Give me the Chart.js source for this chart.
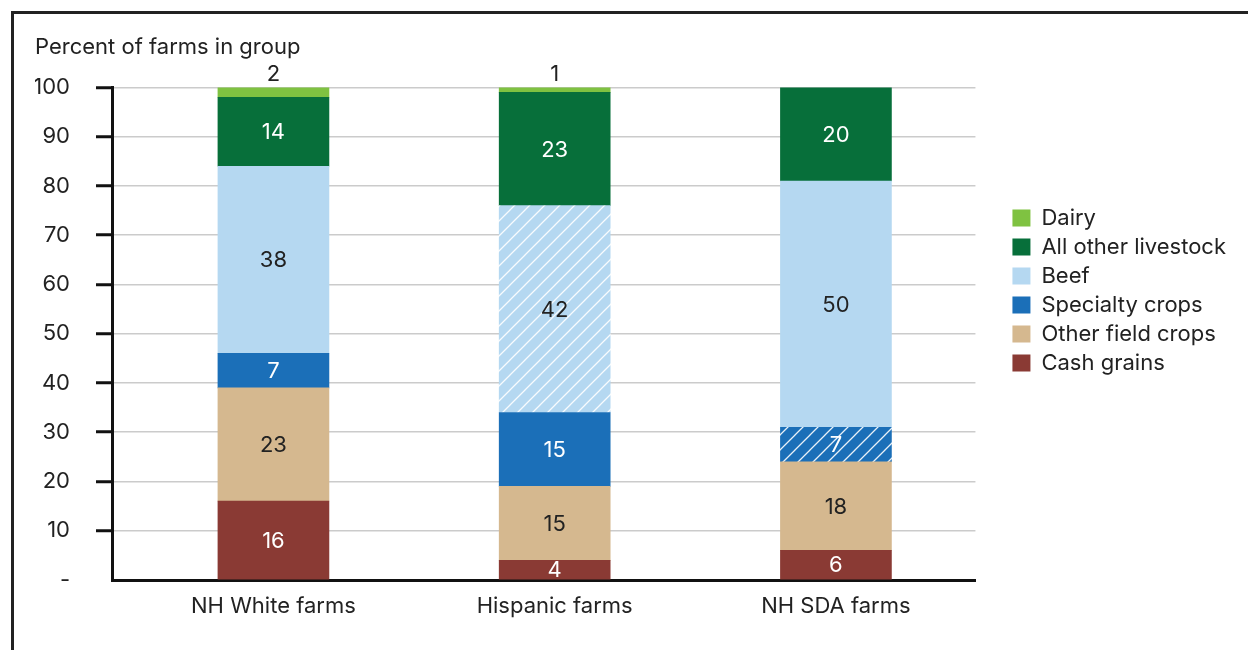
<!DOCTYPE html>
<html>
<head>
	<title>Farm types by operator group</title>
	<script src="https://cdn.jsdelivr.net/npm/chart.js"></script>
	<style>
		body{
			margin: 0;
			background: #fff;
		}
		.frame{
			position: absolute;
			left: 11px;
			top: 11px;
			width: 1300px;
			height: 700px;
			border-top: 3px solid #222;
			border-left: 3px solid #222;
		}
		.wrap{
			position: absolute;
			left: 0;
			top: 0;
			width: 1248px;
			height: 650px;
		}
	</style>
</head>
<body>
	<div class="frame"></div>
	<div class="wrap">
		<canvas id="chart"></canvas>
	</div>
	<script>
		var groups = ['NH White farms', 'Hispanic farms', 'NH SDA farms'];

		var cashGrains     = [16, 4, 6];
		var otherField     = [23, 15, 18];
		var specialty      = [7, 15, 7];
		var beef           = [38, 42, 50];
		var otherLivestock = [14, 23, 20];
		var dairy          = [2, 1, 0];

		var yTicks = [0, 10, 20, 30, 40, 50, 60, 70, 80, 90, 100];

		var FONT = 'Inter, "Noto Sans", sans-serif';
		var SIZE = 22;

		// white diagonal stripes over a fill colour
		function hatch(color) {
			var c = document.createElement('canvas');
			c.width = 15;
			c.height = 15;
			var g = c.getContext('2d');
			g.fillStyle = color;
			g.fillRect(0, 0, 15, 15);
			g.strokeStyle = 'rgba(255,255,255,0.9)';
			g.lineWidth = 1.3;
			g.beginPath();
			g.moveTo(-2, 17); g.lineTo(17, -2);
			g.moveTo(-10, 10); g.lineTo(10, -10);
			g.moveTo(5, 25); g.lineTo(25, 5);
			g.stroke();
			return g.createPattern(c, 'repeat');
		}

		function pts(arr) {
			return arr.map(function(v, i) { return {x: i, y: v}; });
		}

		var series = [
			{label: 'Cash grains', data: cashGrains, color: '#8A3A34', text: '#fff'},
			{label: 'Other field crops', data: otherField, color: '#D5B88F', text: '#222'},
			{label: 'Specialty crops', data: specialty, color: '#1B6FB8', text: '#fff', hatched: [2]},
			{label: 'Beef', data: beef, color: '#B5D8F1', text: '#222', hatched: [1]},
			{label: 'All other livestock', data: otherLivestock, color: '#076F3A', text: '#fff'},
			{label: 'Dairy', data: dairy, color: '#7FC241', text: '#222', above: true}
		];

		var datasets = series.map(function(s) {
			var pattern = s.hatched ? hatch(s.color) : null;
			return {
				label: s.label,
				data: pts(s.data),
				backgroundColor: s.data.map(function(v, i) {
					return (s.hatched && s.hatched.indexOf(i) >= 0) ? pattern : s.color;
				}),
				borderWidth: 0,
				barThickness: 111,
				textColor: s.text,
				labelAbove: !!s.above
			};
		});

		// value labels inside each segment (or above the bar for the top one)
		var segmentLabels = {
			id: 'segmentLabels',
			afterDatasetsDraw: function(chart) {
				var ctx = chart.ctx;
				ctx.save();
				ctx.font = SIZE + 'px ' + FONT;
				ctx.textAlign = 'center';
				ctx.textBaseline = 'middle';
				chart.data.datasets.forEach(function(ds, di) {
					var meta = chart.getDatasetMeta(di);
					meta.data.forEach(function(bar, i) {
						var v = ds.data[i].y;
						if (!v) return;
						var top = Math.max(bar.y, chart.chartArea.top);
						var y = ds.labelAbove ? bar.y - 13 : (top + bar.base) / 2 + 1;
						ctx.fillStyle = ds.textColor;
						ctx.fillText(v, bar.x, y);
					});
				});
				ctx.restore();
			}
		};

		new Chart(document.getElementById('chart'), {
			type: 'bar',
			data: {datasets: datasets},
			plugins: [segmentLabels],
			options: {
				responsive: true,
				maintainAspectRatio: false,
				animation: false,
				layout: {padding: {left: 35, right: 12, top: 34, bottom: 18}},
				plugins: {
					title: {
						display: true,
						text: 'Percent of farms in group',
						align: 'start',
						color: '#222',
						font: {family: FONT, size: SIZE, weight: 'normal'},
						padding: {top: 0, bottom: 27}
					},
					legend: {
						position: 'right',
						align: 'start',
						reverse: true,
						maxWidth: 320,
						// empty title only pushes the items down
						title: {display: true, text: '', font: {size: 10}, padding: {top: 154, bottom: 0}},
						labels: {
							color: '#222',
							font: {family: FONT, size: SIZE},
							boxWidth: 18,
							boxHeight: 17,
							padding: 7
						}
					},
					tooltip: {enabled: false}
				},
				scales: {
					x: {
						type: 'linear',
						stacked: true,
						offset: false,
						min: -0.574,
						max: 2.496,
						grid: {display: false, drawTicks: false},
						border: {color: '#111', width: 3},
						afterFit: function(axis) { axis.height = 52; },
						ticks: {
							stepSize: 1,
							includeBounds: false,
							autoSkip: false,
							maxRotation: 0,
							padding: 13,
							color: '#222',
							font: {family: FONT, size: SIZE},
							callback: function(v) {
								return Number.isInteger(v) ? groups[v] : '';
							}
						}
					},
					y: {
						stacked: true,
						min: 0,
						max: 100,
						afterBuildTicks: function(axis) {
							axis.ticks = yTicks.map(function(v) { return {value: v}; });
						},
						afterFit: function(axis) { axis.width = 77; },
						grid: {
							color: '#CBCBCB',
							lineWidth: 1.5,
							tickLength: 16,
							tickColor: function(c) {
								return c.tick && c.tick.value === 0 ? 'rgba(0,0,0,0)' : '#111';
							},
							tickWidth: 3
						},
						border: {color: '#111', width: 3},
						ticks: {
							padding: 26,
							color: '#222',
							font: {family: FONT, size: SIZE},
							callback: function(v) {
								return v === 0 ? '-' : v;
							}
						}
					},
					// empty strip between the plot and the legend
					gap: {
						position: 'right',
						display: true,
						grid: {display: false},
						border: {display: false},
						ticks: {display: false},
						afterFit: function(axis) { axis.width = 30; }
					}
				}
			}
		});
	</script>
</body>
</html>
